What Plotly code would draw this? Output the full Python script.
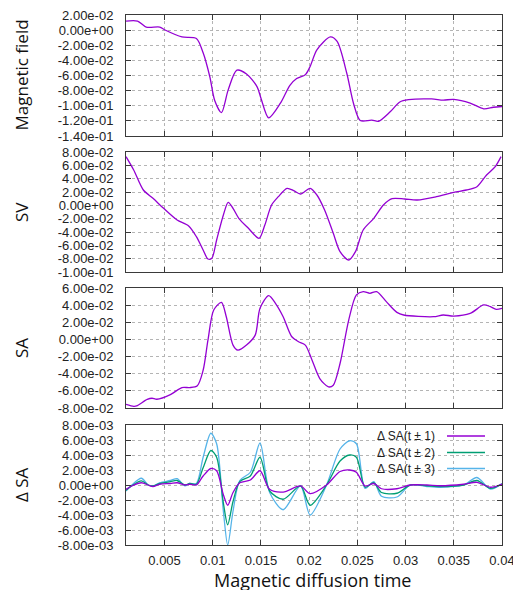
import plotly.graph_objects as go

# ---------------- data ----------------
mf_x = [0.0010, 0.0022, 0.0031, 0.0045, 0.0050, 0.0068, 0.0083, 0.0090, 0.0097, 0.0102,
        0.0109, 0.0116, 0.0125, 0.0135, 0.0146, 0.0150, 0.0158, 0.0170, 0.0180, 0.0187,
        0.0196, 0.0201, 0.0208, 0.0222, 0.0229, 0.0239, 0.0246, 0.0253, 0.0265, 0.0272,
        0.0284, 0.0294, 0.0303, 0.0327, 0.0339, 0.0350, 0.0367, 0.0381, 0.0391, 0.0400]
mf_y = [0.012, 0.012, 0.004, 0.004, 0.0005, -0.009, -0.011, -0.030, -0.062, -0.093,
        -0.109, -0.079, -0.053, -0.058, -0.075, -0.090, -0.116, -0.097, -0.073, -0.064,
        -0.059, -0.048, -0.026, -0.009, -0.015, -0.057, -0.097, -0.1195, -0.119, -0.1205,
        -0.108, -0.095, -0.092, -0.091, -0.0925, -0.0917, -0.0965, -0.104, -0.102, -0.101]

sv_x = [0.0010, 0.0018, 0.0028, 0.0038, 0.0049, 0.0063, 0.0075, 0.0083, 0.0090, 0.0095,
        0.0099, 0.0104, 0.0111, 0.0116, 0.0121, 0.0127, 0.0137, 0.0148, 0.0154, 0.0161,
        0.0168, 0.0177, 0.0184, 0.0191, 0.0201, 0.0208, 0.0216, 0.0225, 0.0232, 0.0241,
        0.0248, 0.0256, 0.0267, 0.0277, 0.0286, 0.0299, 0.0312, 0.0332, 0.0350, 0.0363,
        0.0374, 0.0384, 0.0393, 0.0399]
sv_y = [0.073, 0.053, 0.023, 0.0105, -0.0045, -0.022, -0.031, -0.047, -0.067, -0.0805,
        -0.0795, -0.052, -0.0145, 0.0045, -0.0045, -0.0195, -0.0345, -0.0495, -0.0295, 0.0005,
        0.013, 0.0255, 0.022, 0.017, 0.0255, 0.0155, -0.007, -0.042, -0.0695, -0.082,
        -0.0695, -0.037, -0.0195, 0.0005, 0.010, 0.0095, 0.008, 0.013, 0.0195, 0.023,
        0.028, 0.0455, 0.058, 0.073]

sa_x = [0.0010, 0.0018, 0.0021, 0.0032, 0.0037, 0.0042, 0.0056, 0.0068, 0.0076, 0.0084,
        0.0090, 0.0095, 0.0101, 0.0109, 0.0114, 0.0121, 0.0126, 0.0135, 0.0144, 0.0149,
        0.0158, 0.0165, 0.0173, 0.0182, 0.0189, 0.0196, 0.0203, 0.0211, 0.0220, 0.0225,
        0.0232, 0.0241, 0.0249, 0.0256, 0.0263, 0.0270, 0.0280, 0.0291, 0.0298, 0.0329,
        0.0339, 0.0350, 0.0367, 0.0381, 0.0388, 0.0394, 0.0400]
sa_y = [-0.0757, -0.078, -0.0776, -0.070, -0.0686, -0.0698, -0.0644, -0.0562, -0.0562, -0.054,
        -0.036, -0.0008, 0.0343, 0.0433, 0.0265, -0.0066, -0.0125, -0.0066, 0.005, 0.0363,
        0.0511, 0.0421, 0.0265, 0.0031, -0.0027, -0.0066, -0.0242, -0.0456, -0.0554, -0.0534,
        -0.0281, 0.0226, 0.0519, 0.0558, 0.0538, 0.0558, 0.0441, 0.0316, 0.0285, 0.0265,
        0.0285, 0.0273, 0.0304, 0.0402, 0.0382, 0.0351, 0.0363]

dsa_x = [0.0010, 0.0016, 0.0026, 0.0033, 0.0038, 0.0045, 0.0056, 0.0063, 0.0071, 0.0076,
         0.0083, 0.0090, 0.0098, 0.0104, 0.0111, 0.01155, 0.0121, 0.0128, 0.0139, 0.0149,
         0.0159, 0.0173, 0.0191, 0.0201, 0.0218, 0.0232, 0.0242, 0.0249, 0.0258, 0.0267,
         0.0275, 0.0291, 0.0305, 0.0322, 0.0336, 0.0360, 0.0374, 0.0388, 0.0400]
dsa_1 = [-0.00058, -0.00013, 0.0003, 0.0, -0.0002, 0.0001, 0.0002, 0.0003, 0.0, 0.0001,
         0.0, 0.0012, 0.0022, 0.0019, -0.0013, -0.0027, -0.0010, 0.0003, 0.00067, 0.0019,
         -0.00058, -0.00094, -0.00013, -0.00116, 0.0, 0.0018, 0.0020, 0.0017, -0.00013, 0.0002,
         -0.0005, -0.0005, 0.0, 0.0, -0.0001, 0.0001, 0.00036, -0.0003, 0.00013]
dsa_2 = [-0.0007, -0.0001, 0.00054, 0.0, -0.00013, 0.0002, 0.00045, 0.0006, 0.0, 0.0002,
         0.0001, 0.0023, 0.0046, 0.0037, -0.0024, -0.0053, -0.0022, 0.00045, 0.0012, 0.0037,
         -0.0008, -0.0019, -0.00013, -0.0027, 0.0, 0.0032, 0.0040, 0.0037, -0.0003, 0.0003,
         -0.0010, -0.0011, 0.0, -0.0001, -0.0002, 0.0, 0.0006, -0.00045, 0.00013]
dsa_3 = [-0.0008, 0.0, 0.0009, 0.0, -0.00013, 0.0003, 0.0006, 0.00085, -0.0001, 0.0002,
         0.0002, 0.0037, 0.0069, 0.0055, -0.0035, -0.0080, -0.0035, 0.0006, 0.0017, 0.0056,
         -0.0010, -0.0033, -0.00013, -0.0040, 0.0, 0.0048, 0.0059, 0.0055, -0.00045, 0.00045,
         -0.0015, -0.0016, 0.0, -0.0002, -0.0003, 0.0, 0.0010, -0.00054, 0.00018]

x_ticks = [0.005, 0.01, 0.015, 0.02, 0.025, 0.03, 0.035, 0.04]
x_tick_labels = ["0.005", "0.01", "0.015", "0.02", "0.025", "0.03", "0.035", "0.04"]
mf_ticks = [0.02, 0.0, -0.02, -0.04, -0.06, -0.08, -0.10, -0.12, -0.14]
sv_ticks = [0.08, 0.06, 0.04, 0.02, 0.0, -0.02, -0.04, -0.06, -0.08, -0.10]
sa_ticks = [0.06, 0.04, 0.02, 0.0, -0.02, -0.04, -0.06, -0.08]
dsa_ticks = [0.008, 0.006, 0.004, 0.002, 0.0, -0.002, -0.004, -0.006, -0.008]

panel_titles = ["Magnetic field", "SV", "SA", "\u0394 SA"]
legend_names = ["\u0394 SA(t \u00b1 1)", "\u0394 SA(t \u00b1 2)", "\u0394 SA(t \u00b1 3)"]
colors = ["#9400d3", "#009e73", "#56b4e9"]

# ---------------- layout ----------------
W, H = 513, 590
def px_x(p):
    return p / W
def px_y(p):
    return 1 - p / H

x_dom = [px_x(126), px_x(502)]
y_doms = [[px_y(136), px_y(15)], [px_y(272), px_y(152)],
          [px_y(408), px_y(288)], [px_y(545), px_y(425)]]
y_ranges = [[-0.14, 0.02], [-0.10, 0.08], [-0.08, 0.06], [-0.008, 0.008]]
y_tick_sets = [mf_ticks, sv_ticks, sa_ticks, dsa_ticks]

def etext(v):
    if abs(v) < 1e-15:
        v = 0.0
    return f"{v:.2e}"

fig = go.Figure()

def line(color):
    return dict(color=color, width=1.3, shape='spline', smoothing=0.8)

fig.add_trace(go.Scatter(x=mf_x, y=mf_y, mode='lines', line=line(colors[0]), xaxis='x', yaxis='y'))
fig.add_trace(go.Scatter(x=sv_x, y=sv_y, mode='lines', line=line(colors[0]), xaxis='x2', yaxis='y2'))
fig.add_trace(go.Scatter(x=sa_x, y=sa_y, mode='lines', line=line(colors[0]), xaxis='x3', yaxis='y3'))
for ys, c, n in zip([dsa_3, dsa_2, dsa_1], colors[::-1], legend_names[::-1]):
    fig.add_trace(go.Scatter(x=dsa_x, y=ys, mode='lines', name=n, line=line(c), xaxis='x4', yaxis='y4'))

axis_common = dict(showline=True, mirror='allticks', linecolor='#3a3a3a', linewidth=1,
                   ticks='inside', ticklen=5, tickcolor='#3a3a3a', tickwidth=1,
                   showgrid=True, gridcolor='#b4b4b4', griddash='dot', gridwidth=1,
                   zeroline=False, automargin=False, ticklabeloverflow='allow',
                   tickfont=dict(family='Liberation Sans, Arial', size=13, color='#222'))

layout = dict(width=W, height=H, margin=dict(l=0, r=0, t=0, b=0, autoexpand=False),
              paper_bgcolor='white', plot_bgcolor='white', showlegend=False)

for i in range(4):
    s = '' if i == 0 else str(i + 1)
    layout['xaxis' + s] = dict(axis_common, domain=x_dom, range=[0.001, 0.04],
                               anchor='y' + s, tickvals=x_ticks, ticktext=x_tick_labels,
                               showticklabels=(i == 3), ticklabelstandoff=3)
    layout['yaxis' + s] = dict(axis_common, domain=y_doms[i], range=y_ranges[i],
                               anchor='x' + s, tickvals=y_tick_sets[i],
                               ticktext=[etext(v) for v in y_tick_sets[i]],
                               ticklabelstandoff=9)

fig.update_layout(**layout)

annotations = []
ytitle_font = dict(family='Open Sans, Noto Sans', size=17, color='#111')
xtitle_font = dict(family='Open Sans, Noto Sans', size=18, color='#111')
for i, t in enumerate(panel_titles):
    yc = (y_doms[i][0] + y_doms[i][1]) / 2
    annotations.append(dict(text=t, x=px_x(21), y=yc, xref='paper', yref='paper',
                            textangle=-90, showarrow=False, font=ytitle_font,
                            xanchor='center', yanchor='middle'))
annotations.append(dict(text="Magnetic diffusion time", x=px_x(312), y=px_y(580),
                        xref='paper', yref='paper', showarrow=False, font=xtitle_font,
                        xanchor='center', yanchor='middle'))

shapes = []
leg_rows = [436, 452.5, 468.5]
for n, c, r in zip(legend_names, colors, leg_rows):
    annotations.append(dict(text=n, x=px_x(437), y=px_y(r), xref='paper', yref='paper',
                            showarrow=False, xanchor='right', yanchor='middle',
                            font=dict(family='Liberation Sans, Arial', size=12, color='#222')))
    shapes.append(dict(type='line', xref='paper', yref='paper', x0=px_x(447), x1=px_x(485),
                       y0=px_y(r), y1=px_y(r), line=dict(color=c, width=1.3)))

fig.update_layout(annotations=annotations, shapes=shapes)
# remove the default page margin so the figure fills the window exactly
fig.write_html("out.html", config={'displayModeBar': False},
               post_script="document.body.style.margin='0';document.body.style.overflow='hidden';")
